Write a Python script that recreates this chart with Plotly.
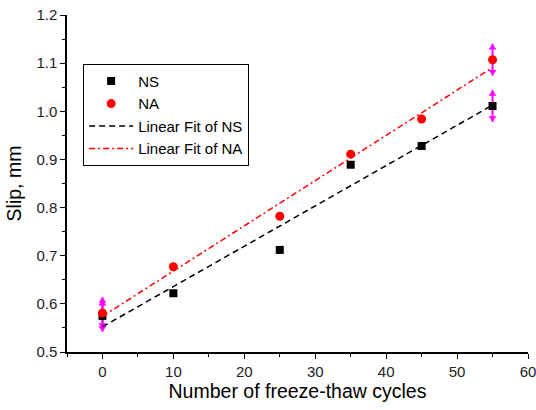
import numpy as np
import plotly.graph_objects as go

cycles = [0, 10, 25, 35, 45, 55]
slip_ns = [0.575, 0.622, 0.712, 0.889, 0.928, 1.011]
slip_na = [0.581, 0.677, 0.782, 0.911, 0.984, 1.107]
err_ns = [0.033, 0, 0, 0, 0, 0.033]
err_na = [0.033, 0, 0, 0, 0, 0.033]
x_ticks = [0, 10, 20, 30, 40, 50, 60]
y_ticks = [0.5, 0.6, 0.7, 0.8, 0.9, 1.0, 1.1, 1.2]

font = "Liberation Sans, Arial, sans-serif"
fig = go.Figure()

# error bars with arrow heads (magenta)
for ys, es in ((slip_ns, err_ns), (slip_na, err_na)):
    for xv, yv, ev in zip(cycles, ys, es):
        if ev > 0:
            fig.add_trace(go.Scatter(x=[xv, xv], y=[yv - ev, yv + ev], mode="lines",
                                     line=dict(color="#ff00ff", width=2),
                                     showlegend=False, hoverinfo="skip"))
            fig.add_trace(go.Scatter(x=[xv, xv], y=[yv + ev - 0.008, yv - ev + 0.008],
                                     mode="markers",
                                     marker=dict(symbol=["triangle-up", "triangle-down"],
                                                 size=7, color="#ff00ff"),
                                     showlegend=False, hoverinfo="skip"))

fit_x = np.array([cycles[0], cycles[-1]], dtype=float)
p_ns = np.polyfit(cycles, slip_ns, 1)
p_na = np.polyfit(cycles, slip_na, 1)

fig.add_trace(go.Scatter(x=cycles, y=slip_ns, mode="markers", name="NS",
                         marker=dict(symbol="square", size=8, color="black")))
fig.add_trace(go.Scatter(x=cycles, y=slip_na, mode="markers", name="NA",
                         marker=dict(symbol="circle", size=9, color="#ff0000")))
fig.add_trace(go.Scatter(x=fit_x, y=np.polyval(p_ns, fit_x), mode="lines",
                         name="Linear Fit of NS",
                         line=dict(color="black", width=1.5, dash="6px,4px")))
fig.add_trace(go.Scatter(x=fit_x, y=np.polyval(p_na, fit_x), mode="lines",
                         name="Linear Fit of NA",
                         line=dict(color="#ff0000", width=1.5, dash="6px,3px,2px,3px")))

axis_common = dict(showgrid=False, zeroline=False, showline=True, linecolor="black",
                   linewidth=1.5, ticks="outside", ticklen=5, tickwidth=1.2,
                   tickcolor="black", automargin=False, ticklabeloverflow="allow",
                   tickfont=dict(size=15, color="#222222", family=font))

fig.update_layout(
    width=536, height=410,
    margin=dict(l=67, r=8, t=15, b=58),
    paper_bgcolor="white", plot_bgcolor="white",
    font=dict(family=font, color="black"),
    xaxis=dict(range=[-5, 60], tickvals=x_ticks,
               title=dict(text="Number of freeze-thaw cycles", font=dict(size=19.5), standoff=4),
               minor=dict(ticks="outside", ticklen=3, tickwidth=1.2,
                          tickcolor="black", dtick=5, tick0=0),
               **axis_common),
    yaxis=dict(range=[0.5, 1.2], tickvals=y_ticks, tickformat=".1f",
               title=dict(text="Slip, mm", font=dict(size=19.5), standoff=10),
               minor=dict(ticks="outside", ticklen=3, tickwidth=1.2,
                          tickcolor="black", dtick=0.05, tick0=0.5),
               **axis_common),
    legend=dict(x=0.035, y=0.855, xanchor="left", yanchor="top",
                bordercolor="black", borderwidth=1, bgcolor="white",
                font=dict(size=15, family=font), tracegroupgap=0,
                itemwidth=44),
)

fig.write_html("out.html",
               config={"displayModeBar": False},
               post_script="document.body.style.margin='0';"
                           "document.body.style.overflow='hidden';")
